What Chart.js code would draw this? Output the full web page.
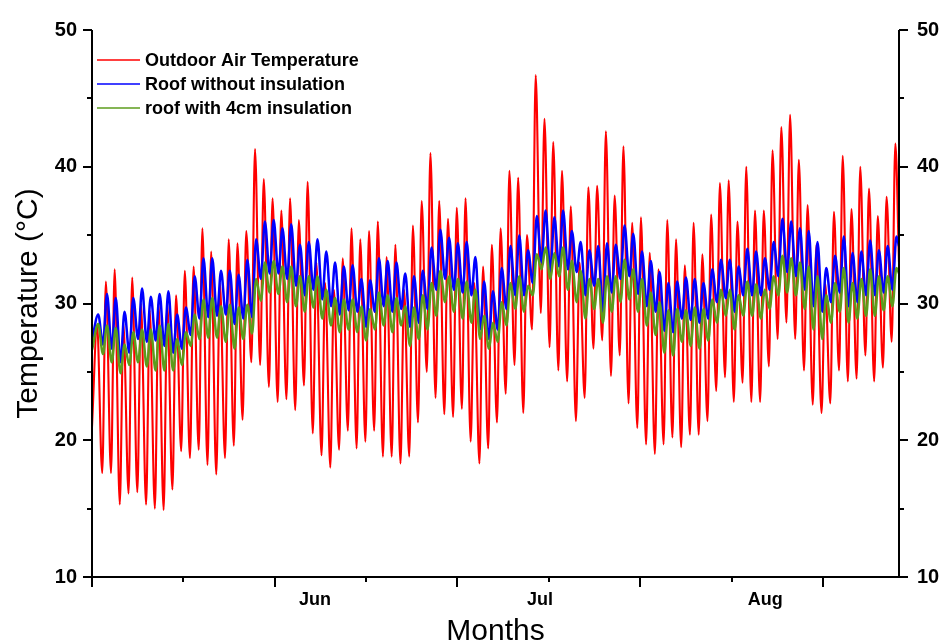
<!DOCTYPE html>
<html>
<head>
<meta charset="utf-8">
<script src="https://cdn.jsdelivr.net/npm/chart.js@4.4.1/dist/chart.umd.min.js"></script>
<style>
  html, body { margin: 0; padding: 0; background: #fff; }
  #wrap { width: 944px; height: 644px; }
</style>
</head>
<body>
<div id="wrap"><canvas id="tempChart" width="944" height="644"></canvas></div>
<script>
// Daily extremes, one value per day (92 days, hourly axis).
// Index 0 of each "Min" array is the value at hour 0 of the record.
const redMax = [28.4, 31.6, 32.5, 28.5, 31.9, 30.0, 29.5, 30.0, 30.0, 30.6,
  32.4, 32.7, 35.5, 33.8, 31.5, 34.7, 34.4, 35.3, 41.3, 39.1,
  37.7, 36.8, 37.7, 36.1, 38.9, 33.0, 31.5, 31.0, 33.3, 35.5,
  34.7, 35.3, 36.0, 33.4, 34.3, 31.0, 35.7, 37.5, 41.0, 37.5,
  36.2, 37.0, 37.7, 31.5, 32.7, 34.3, 35.5, 39.7, 39.2, 35.0,
  46.7, 43.5, 41.8, 39.7, 37.1, 33.0, 38.5, 38.6, 42.6, 37.9,
  41.5, 35.9, 36.3, 33.7, 32.5, 36.1, 34.7, 32.8, 35.9, 33.6,
  36.5, 38.8, 39.0, 36.0, 40.0, 36.8, 36.8, 41.2, 42.9, 43.8,
  40.5, 37.2, 34.3, 31.5, 36.7, 40.8, 36.9, 40.0, 38.4, 36.4,
  37.8, 41.7];
const redMin = [21.0, 17.6, 17.6, 15.3, 16.1, 16.2, 15.3, 15.0, 14.9, 16.4,
  19.2, 18.7, 19.3, 18.2, 17.5, 18.7, 19.6, 21.5, 25.7, 25.5,
  23.9, 22.8, 23.0, 22.2, 24.0, 20.5, 18.9, 18.0, 19.3, 20.7,
  19.4, 19.9, 20.7, 18.8, 18.8, 18.3, 18.8, 21.3, 25.0, 23.1,
  21.9, 21.7, 22.3, 19.9, 18.3, 19.4, 21.3, 23.4, 25.5, 22.0,
  28.1, 29.3, 26.8, 25.1, 24.3, 21.4, 23.1, 26.7, 27.3, 24.7,
  26.2, 22.7, 20.9, 19.7, 19.0, 19.7, 20.2, 19.5, 20.4, 20.4,
  21.4, 23.6, 24.6, 22.8, 24.2, 22.8, 22.8, 25.4, 27.4, 28.6,
  27.4, 25.1, 22.6, 22.0, 22.7, 25.1, 24.3, 24.5, 26.2, 24.3,
  25.3, 27.2];
const roofMax = [29.2, 30.7, 30.4, 29.4, 30.4, 31.1, 30.5, 30.7, 30.9, 29.2,
  29.7, 32.0, 33.3, 33.3, 32.4, 32.4, 32.1, 33.2, 34.7, 36.0,
  36.1, 35.5, 35.8, 34.3, 34.5, 34.7, 33.8, 33.0, 32.7, 32.8,
  31.8, 31.7, 33.3, 33.1, 33.0, 32.2, 32.0, 32.4, 34.1, 35.4,
  34.8, 34.4, 34.5, 33.4, 31.6, 30.9, 32.6, 34.2, 35.0, 33.9,
  36.4, 36.8, 36.3, 36.8, 35.3, 34.5, 33.9, 34.2, 34.4, 34.3,
  35.7, 35.1, 33.8, 33.1, 32.3, 31.5, 31.6, 31.9, 31.8, 31.5,
  32.5, 33.2, 33.2, 32.7, 34.0, 33.8, 33.3, 34.5, 36.2, 36.0,
  35.5, 35.3, 34.5, 32.6, 33.5, 34.9, 33.7, 33.8, 34.6, 33.9,
  34.2, 34.9];
const roofMin = [27.3, 27.0, 26.7, 25.7, 26.4, 27.4, 27.2, 27.3, 26.9, 26.4,
  26.7, 27.7, 28.9, 29.0, 29.1, 29.2, 28.5, 28.9, 29.0, 31.8,
  32.2, 32.2, 31.8, 31.3, 30.6, 31.0, 30.3, 29.8, 29.2, 29.5,
  29.4, 28.3, 29.4, 29.8, 29.4, 29.6, 28.3, 28.6, 29.6, 31.0,
  31.8, 31.0, 30.8, 30.6, 28.1, 27.4, 28.1, 29.6, 30.6, 30.6,
  31.5, 33.0, 32.3, 32.7, 32.5, 32.3, 30.6, 31.3, 29.4, 30.8,
  31.8, 32.0, 30.7, 29.8, 29.4, 28.0, 27.9, 28.9, 28.8, 28.6,
  28.9, 30.1, 30.4, 29.4, 30.6, 30.6, 30.6, 31.0, 32.0, 32.3,
  32.0, 31.0, 29.8, 29.4, 30.1, 30.8, 29.8, 30.1, 30.6, 30.6,
  30.8, 31.0];
const insulMax = [28.5, 28.4, 28.2, 27.0, 27.9, 28.1, 28.1, 28.4, 28.5, 27.4,
  27.9, 29.2, 30.3, 30.4, 29.8, 29.9, 29.7, 29.9, 31.8, 33.0,
  33.1, 32.7, 32.7, 32.0, 32.0, 32.0, 31.0, 30.4, 30.3, 30.3,
  29.8, 29.6, 30.8, 30.6, 30.4, 29.8, 29.7, 30.6, 31.5, 32.4,
  32.0, 31.8, 31.6, 31.0, 29.1, 28.6, 30.1, 31.5, 32.0, 31.3,
  33.6, 34.1, 33.7, 34.1, 33.1, 32.4, 31.8, 31.8, 32.0, 32.0,
  33.2, 32.5, 31.8, 30.8, 30.1, 29.5, 29.6, 29.5, 29.7, 29.6,
  30.3, 31.0, 31.0, 30.6, 31.6, 31.4, 31.0, 32.0, 33.5, 33.3,
  33.0, 32.7, 32.0, 30.6, 31.5, 32.6, 31.5, 31.8, 32.5, 32.0,
  32.0, 32.6];
const insulMin = [26.6, 26.3, 25.7, 24.9, 25.5, 25.7, 25.4, 25.1, 25.1, 25.1,
  25.5, 26.9, 27.4, 27.5, 27.5, 27.2, 26.7, 27.4, 27.8, 30.2,
  30.8, 30.7, 30.1, 29.8, 29.4, 29.7, 28.9, 28.4, 27.9, 28.1,
  27.9, 27.3, 28.1, 28.4, 27.9, 28.4, 26.9, 27.4, 28.1, 29.1,
  30.1, 29.4, 28.9, 28.6, 27.4, 26.7, 27.2, 28.4, 29.6, 29.4,
  30.6, 32.5, 31.8, 32.0, 31.0, 30.1, 28.9, 29.6, 28.6, 29.4,
  30.1, 30.3, 29.4, 28.4, 27.7, 26.4, 26.2, 27.2, 26.9, 26.7,
  27.3, 28.6, 29.1, 28.1, 29.1, 29.1, 28.9, 29.6, 30.6, 30.8,
  30.6, 29.6, 28.1, 27.4, 28.6, 29.4, 28.6, 28.9, 29.1, 29.1,
  29.5, 29.8];
// value at the last hour of the record: outdoor, roof, insulated roof
const seriesEnd = [33.0, 34.2, 32.2];

// hour of day of the daily minimum / maximum
const outdoorMinHour = 4, outdoorMaxHour = 14;
const roofMinHour = 6, roofMaxHour = 17;

const seriesNames = ['Outdoor Air Temperature', 'Roof without insulation', 'roof with 4cm insulation'];
const seriesColors = ['#ff0000', '#0000ff', '#5c9c1c'];

const monthNames = ['Jun', 'Jul', 'Aug'];
const monthLabelHours = [610, 1226, 1842];
const yTicks = [10, 20, 30, 40, 50];

const totalHours = redMax.length * 24;
const FONT = '"Liberation Sans", Arial, Helvetica, sans-serif';

function dailyPoints(mins, maxs, minHour, maxHour, endValue) {
  const pts = [];
  for (let d = 0; d < maxs.length; d++) {
    pts.push({ x: d * 24 + (d === 0 ? 0 : minHour), y: mins[d] });
    pts.push({ x: d * 24 + maxHour, y: maxs[d] });
  }
  pts.push({ x: totalHours, y: endValue });
  return pts;
}

// axis lines plus major/minor tick marks, Origin style (outward)
const axesPlugin = {
  id: 'axesPlugin',
  afterDraw(chart) {
    const { ctx, chartArea: a, scales } = chart;
    const x = scales.x, y = scales.y;
    ctx.save();
    ctx.strokeStyle = '#000';
    ctx.lineWidth = 2;
    ctx.beginPath();
    ctx.moveTo(a.left, a.top);
    ctx.lineTo(a.left, a.bottom);
    ctx.lineTo(a.right, a.bottom);
    ctx.lineTo(a.right, a.top);
    ctx.stroke();
    ctx.beginPath();
    for (let h = 0; h <= totalHours; h += 250) {
      const px = Math.round(x.getPixelForValue(h));
      const len = h % 500 === 0 ? 10 : 5;
      ctx.moveTo(px, a.bottom);
      ctx.lineTo(px, a.bottom + len);
    }
    for (let t = y.min; t <= y.max; t += 5) {
      const py = Math.round(y.getPixelForValue(t));
      const len = t % 10 === 0 ? 9 : 5;
      ctx.moveTo(a.left - len, py);
      ctx.lineTo(a.left, py);
      ctx.moveTo(a.right, py);
      ctx.lineTo(a.right + len, py);
    }
    ctx.stroke();
    ctx.restore();
  }
};

// legend inside the plot, top left
const insideLegend = {
  id: 'insideLegend',
  afterDraw(chart) {
    const { ctx, chartArea: a } = chart;
    ctx.save();
    ctx.font = 'bold 18px ' + FONT;
    ctx.textBaseline = 'middle';
    ctx.fillStyle = '#000';
    chart.data.datasets.forEach(function (ds, i) {
      const yy = a.top + 30 + i * 24;
      ctx.strokeStyle = ds.borderColor;
      ctx.lineWidth = 1.6;
      ctx.beginPath();
      ctx.moveTo(a.left + 5, yy);
      ctx.lineTo(a.left + 48, yy);
      ctx.stroke();
      ctx.fillText(ds.label, a.left + 53, yy + 1);
    });
    ctx.restore();
  }
};

const ctx = document.getElementById('tempChart').getContext('2d');
new Chart(ctx, {
  type: 'line',
  data: {
    datasets: [{
      label: seriesNames[0],
      data: dailyPoints(redMin, redMax, outdoorMinHour, outdoorMaxHour, seriesEnd[0]),
      borderColor: seriesColors[0],
      borderWidth: 2.1,
      order: 3
    }, {
      label: seriesNames[1],
      data: dailyPoints(roofMin, roofMax, roofMinHour, roofMaxHour, seriesEnd[1]),
      borderColor: seriesColors[1],
      borderWidth: 2.5,
      order: 2
    }, {
      label: seriesNames[2],
      data: dailyPoints(insulMin, insulMax, roofMinHour, roofMaxHour, seriesEnd[2]),
      borderColor: seriesColors[2],
      borderWidth: 2.5,
      order: 1
    }]
  },
  options: {
    responsive: false,
    animation: false,
    events: [],
    datasets: {
      line: {
        pointRadius: 0,
        fill: false,
        cubicInterpolationMode: 'monotone',
        yAxisID: 'y'
      }
    },
    layout: { padding: { top: 25, left: 0, right: 0, bottom: 0 } },
    plugins: {
      legend: { display: false },
      tooltip: { enabled: false }
    },
    scales: {
      x: {
        type: 'linear',
        min: 0,
        max: totalHours,
        afterBuildTicks: function (scale) {
          scale.ticks = monthLabelHours.map(v => ({ value: v }));
        },
        afterFit: function (scale) { scale.height = 67; },
        ticks: {
          autoSkip: false,
          maxRotation: 0,
          padding: 12,
          color: '#000',
          font: { family: FONT, size: 18, weight: 'bold' },
          callback: function (value, index) { return monthNames[index]; }
        },
        grid: { display: false, drawTicks: false },
        border: { display: false },
        title: {
          display: true,
          text: 'Months',
          color: '#000',
          font: { family: FONT, size: 30 },
          padding: { top: 0, bottom: -6 }
        }
      },
      y: {
        position: 'left',
        min: 10,
        max: 50,
        afterBuildTicks: function (scale) {
          scale.ticks = yTicks.map(v => ({ value: v }));
        },
        afterFit: function (scale) { scale.width = 92; },
        ticks: {
          padding: 15,
          color: '#000',
          font: { family: FONT, size: 20, weight: 'bold' }
        },
        grid: { display: false, drawTicks: false },
        border: { display: false },
        title: {
          display: true,
          text: 'Temperature (°C)',
          color: '#000',
          font: { family: FONT, size: 30 },
          padding: { top: 11, bottom: 0 }
        }
      },
      y1: {
        position: 'right',
        min: 10,
        max: 50,
        afterBuildTicks: function (scale) {
          scale.ticks = yTicks.map(v => ({ value: v }));
        },
        afterFit: function (scale) { scale.width = 45; },
        ticks: {
          padding: 18,
          color: '#000',
          font: { family: FONT, size: 20, weight: 'bold' }
        },
        grid: { display: false, drawTicks: false },
        border: { display: false }
      }
    }
  },
  plugins: [axesPlugin, insideLegend]
});
</script>
</body>
</html>
